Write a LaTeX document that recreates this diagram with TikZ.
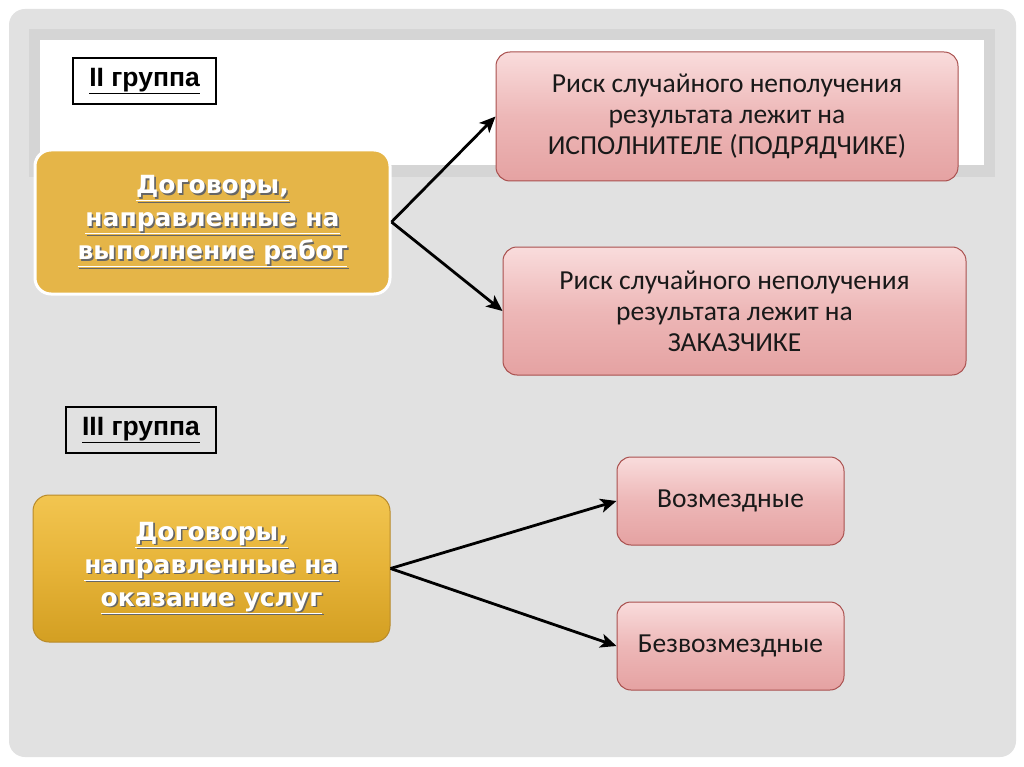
\documentclass[tikz,border=0pt]{standalone}
\usepackage{fontspec}
\setmainfont{Carlito}
\newfontfamily\goldfont{DejaVu Sans}
\newfontfamily\labfont{Liberation Sans}
\usetikzlibrary{arrows.meta}
\definecolor{panelgray}{HTML}{E1E1E1}
\definecolor{bandgray}{HTML}{D5D5D5}
\definecolor{goldA}{HTML}{E5B548}
\definecolor{goldtop}{HTML}{F2C550}
\definecolor{goldmid}{HTML}{E6B338}
\definecolor{goldbot}{HTML}{D39F22}
\definecolor{goldedge}{HTML}{B88A2A}
\definecolor{redtop}{HTML}{F9DCDC}
\definecolor{redmid}{HTML}{EDB7B7}
\definecolor{redbot}{HTML}{E5A2A2}
\definecolor{rededge}{HTML}{A9504E}
\newcommand\gshad[1]{\leavevmode\rlap{\kern1.6pt\raisebox{-1.6pt}{\textcolor{black!60}{#1}}}#1}
\tikzset{
  redbox/.style={draw=rededge, line width=1pt, rounded corners=14pt,
    top color=redtop, bottom color=redbot, middle color=redmid,
    align=center, font=\fontsize{27.5}{31}\selectfont, text=black!90, inner sep=0pt},
  goldbox/.style={rounded corners=16pt, align=center, text=white,
    font=\goldfont\bfseries\fontsize{25}{33}\selectfont, inner sep=0pt},
  grouplabel/.style={draw=black, line width=1.6pt, inner sep=0pt,
    font=\labfont\bfseries\fontsize{26.5}{28}\selectfont},
  conn/.style={line width=2.8pt, -{Stealth[length=16pt,width=14pt,inset=4pt]}}
}
\begin{document}
\begin{tikzpicture}[x=1pt,y=-1pt]
\useasboundingbox (0,0) rectangle (1024,767);
\fill[white] (0,0) rectangle (1024,767);
\fill[panelgray] (9,9) [rounded corners=16pt] rectangle (1016,757);
\fill[bandgray] (29,29) rectangle (995,177);
\fill[white] (40,40) rectangle (984,165);

\node[grouplabel, fill=white, minimum width=143pt, minimum height=46pt] (lab2) at (144.5,81) {\underline{II группа}};
\node[grouplabel, minimum width=150pt, minimum height=46pt] (lab3) at (141,430) {\underline{III группа}};

\node[goldbox, fill=goldA, draw=white, line width=3pt, minimum width=355pt, minimum height=144pt] (g1) at (212.5,222)
  {\gshad{\underline{Договоры,}}\\ \gshad{\underline{направленные на}}\\ \gshad{\underline{выполнение работ}}};
\node[goldbox, top color=goldtop, bottom color=goldbot, middle color=goldmid, draw=goldedge, line width=1pt, minimum width=357pt, minimum height=147pt] (g2) at (211.5,568.5)
  {\gshad{\underline{Договоры,}}\\ \gshad{\underline{направленные на}}\\ \gshad{\underline{оказание услуг}}};

\node[redbox, minimum width=462pt, minimum height=129pt] (r1) at (727,116.5)
  {Риск случайного неполучения\\ результата лежит на\\ ИСПОЛНИТЕЛЕ (ПОДРЯДЧИКЕ)};
\node[redbox, minimum width=463pt, minimum height=128pt] (r2) at (734.5,311)
  {Риск случайного неполучения\\ результата лежит на\\ ЗАКАЗЧИКЕ};
\node[redbox, minimum width=227pt, minimum height=88pt] (r3) at (730.5,501) {Возмездные};
\node[redbox, minimum width=227pt, minimum height=88pt] (r4) at (730.5,646) {Безвозмездные};

\draw[conn] (g1.east) -- (r1.west);
\draw[conn] (g1.east) -- (r2.west);
\draw[conn] (g2.east) -- (r3.west);
\draw[conn] (g2.east) -- (r4.west);
\end{tikzpicture}
\end{document}
